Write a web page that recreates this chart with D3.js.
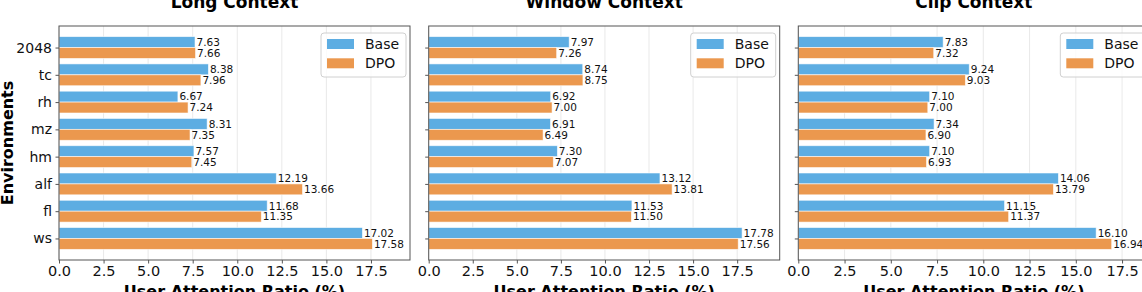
<!DOCTYPE html>
<html>
<head>
<meta charset="utf-8">
<script src="https://cdn.jsdelivr.net/npm/d3@7"></script>
<style>
  body { margin: 0; background: #fff; }
  svg { display: block; font-family: "DejaVu Sans", sans-serif; }
</style>
</head>
<body>
<div id="chart"></div>
<script>
// environments, top to bottom
var categories = ["2048", "tc", "rh", "mz", "hm", "alf", "fl", "ws"];
var panelTitles = ["Long Context", "Window Context", "Clip Context"];
var seriesNames = ["Base", "DPO"];
var xTicks = [0, 2.5, 5, 7.5, 10, 12.5, 15, 17.5];

var longBase   = [7.63, 8.38, 6.67, 8.31, 7.57, 12.19, 11.68, 17.02];
var longDpo    = [7.66, 7.96, 7.24, 7.35, 7.45, 13.66, 11.35, 17.58];
var windowBase = [7.97, 8.74, 6.92, 6.91, 7.30, 13.12, 11.53, 17.78];
var windowDpo  = [7.26, 8.75, 7.00, 6.49, 7.07, 13.81, 11.50, 17.56];
var clipBase   = [7.83, 9.24, 7.10, 7.34, 7.10, 14.06, 11.15, 16.10];
var clipDpo    = [7.32, 9.03, 7.00, 6.90, 6.93, 13.79, 11.37, 16.94];

var panels = [
  { title: panelTitles[0], base: longBase, dpo: longDpo },
  { title: panelTitles[1], base: windowBase, dpo: windowDpo },
  { title: panelTitles[2], base: clipBase, dpo: clipDpo }
];

var colors = ["#5DADE2", "#EB984E"];

var svgWidth = 1142;
var svgHeight = 292;
var panelLefts = [59, 428.7, 798.3];
var plotTop = 26;
var plotW = 351;
var plotH = 234;

var svg = d3.select("#chart")
  .append("svg")
  .attr("width", svgWidth)
  .attr("height", svgHeight);

var n = categories.length;
var barH = 0.4;

var yScale = d3.scaleLinear()
  .domain([-0.79, n - 1 + 0.79])
  .range([plotH, 0]);

panels.forEach(function(p, pi) {
  var maxVal = d3.max(p.base.concat(p.dpo));
  var xScale = d3.scaleLinear()
    .domain([0, maxVal * 1.12])
    .range([0, plotW]);

  var g = svg.append("g")
    .attr("transform", `translate(${panelLefts[pi]}, ${plotTop})`);

  // grid
  g.selectAll(".grid")
    .data(xTicks)
    .enter()
    .append("line")
    .attr("x1", d => xScale(d))
    .attr("x2", d => xScale(d))
    .attr("y1", 0)
    .attr("y2", plotH)
    .attr("stroke", "#e3e3e3")
    .attr("stroke-width", 0.8);

  var pos = function(i) { return n - 1 - i; };

  [p.base, p.dpo].forEach(function(vals, si) {
    var offset = si === 0 ? barH : 0;
    var bars = g.append("g");
    bars.selectAll("rect")
      .data(vals)
      .enter()
      .append("rect")
      .attr("x", xScale(0))
      .attr("y", (d, i) => yScale(pos(i) + offset))
      .attr("width", d => xScale(d) - xScale(0))
      .attr("height", yScale(0) - yScale(barH))
      .attr("fill", colors[si])
      .attr("stroke", "#fff")
      .attr("stroke-opacity", 0.7)
      .attr("stroke-width", 0.8);

    bars.selectAll("text")
      .data(vals)
      .enter()
      .append("text")
      .attr("x", d => xScale(d) + 1.5)
      .attr("y", (d, i) => yScale(pos(i) + offset - barH / 2))
      .attr("dy", "0.36em")
      .attr("font-size", 10.5)
      .attr("fill", "#111")
      .text(d => d3.format(".2f")(d));
  });

  // frame
  g.append("rect")
    .attr("x", 0)
    .attr("y", 0)
    .attr("width", plotW)
    .attr("height", plotH)
    .attr("fill", "none")
    .attr("stroke", "#555")
    .attr("stroke-width", 1);

  // x axis
  var xAxis = d3.axisBottom(xScale)
    .tickValues(xTicks)
    .tickFormat(d3.format(".1f"))
    .tickSize(3.5)
    .tickPadding(2.5);
  var xg = g.append("g")
    .attr("transform", `translate(0, ${plotH})`)
    .call(xAxis);
  xg.select(".domain").remove();
  xg.selectAll("line").attr("stroke", "#555");
  xg.selectAll("text")
    .attr("font-size", 14.5)
    .attr("font-family", "DejaVu Sans")
    .attr("fill", "#111");

  // y axis
  var yAxis = d3.axisLeft(yScale)
    .tickValues(d3.range(n))
    .tickFormat(d => pi === 0 ? categories[n - 1 - d] : "")
    .tickSize(3.5)
    .tickPadding(3.5);
  var yg = g.append("g").call(yAxis);
  yg.select(".domain").remove();
  yg.selectAll("line").attr("stroke", "#555");
  yg.selectAll("text")
    .attr("font-size", 14)
    .attr("font-family", "DejaVu Sans")
    .attr("fill", "#111");

  // title
  g.append("text")
    .attr("x", plotW / 2)
    .attr("y", -18)
    .attr("text-anchor", "middle")
    .attr("font-size", 17)
    .attr("font-weight", "bold")
    .attr("fill", "#000")
    .text(p.title);

  // x label
  g.append("text")
    .attr("x", plotW / 2)
    .attr("y", plotH + 37)
    .attr("text-anchor", "middle")
    .attr("font-size", 16)
    .attr("font-weight", "bold")
    .attr("fill", "#000")
    .text("User Attention Ratio (%)");

  // legend
  var lg = g.append("g")
    .attr("transform", `translate(${plotW - 89}, 7)`);
  lg.append("rect")
    .attr("width", 85)
    .attr("height", 44)
    .attr("rx", 3)
    .attr("fill", "#fff")
    .attr("fill-opacity", 0.8)
    .attr("stroke", "#d0d0d0")
    .attr("stroke-width", 1);
  seriesNames.forEach(function(name, si) {
    lg.append("rect")
      .attr("x", 6)
      .attr("y", 6 + si * 19.3)
      .attr("width", 27)
      .attr("height", 10)
      .attr("fill", colors[si]);
    lg.append("text")
      .attr("x", 44)
      .attr("y", 11 + si * 19.3)
      .attr("dy", "0.36em")
      .attr("font-size", 14)
      .attr("fill", "#111")
      .text(name);
  });
});

// shared y label
svg.append("text")
  .attr("transform", `translate(13, ${plotTop + plotH / 2}) rotate(-90)`)
  .attr("text-anchor", "middle")
  .attr("font-size", 16)
  .attr("font-weight", "bold")
  .attr("fill", "#000")
  .text("Environments");
</script>
</body>
</html>
